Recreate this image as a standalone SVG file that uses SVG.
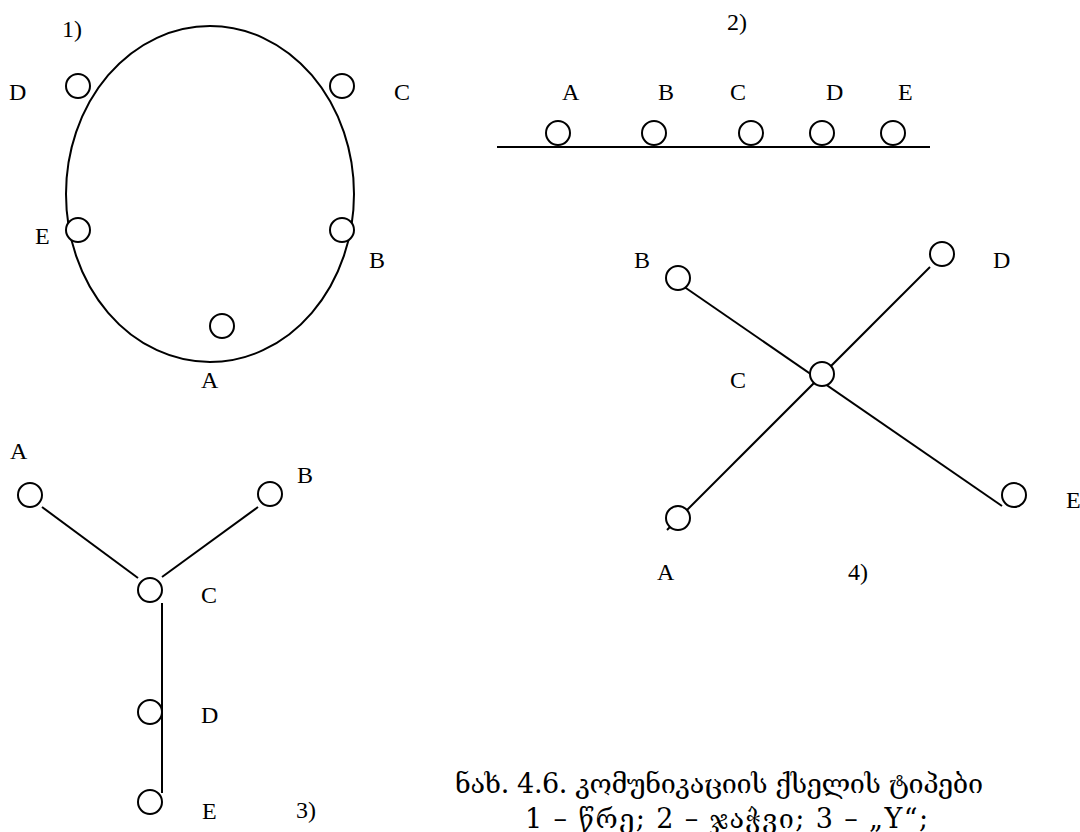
<svg xmlns="http://www.w3.org/2000/svg" width="1080" height="832" viewBox="0 0 1080 832">
<style>
.ln{stroke:#000;stroke-width:2;fill:none}
.nd{stroke:#000;stroke-width:2;fill:#fff}
.lb{font-family:"Liberation Serif","Times New Roman",serif;font-size:24px;fill:#000}
.cap{font-family:"DejaVu Serif","DejaVu Sans",serif;font-size:27px;fill:#000}
</style>
<rect width="1080" height="832" fill="#fff"/>
<g id="connectors">
<ellipse class="ln" cx="210" cy="194" rx="144" ry="168"/>
<line class="ln" x1="497" y1="147" x2="930" y2="147"/>
<line class="ln" x1="42" y1="507" x2="138" y2="578"/>
<line class="ln" x1="258" y1="507" x2="162" y2="577"/>
<line class="ln" x1="667" y1="275" x2="1002" y2="506"/>
<line class="ln" x1="930" y1="267" x2="667" y2="530"/>
</g>
<g id="ring">
<g id="ring-D"><circle class="nd" cx="78" cy="86" r="12"/><text class="lb" x="9" y="100">D</text></g>
<g id="ring-C"><circle class="nd" cx="342" cy="86" r="12"/><text class="lb" x="394" y="100">C</text></g>
<g id="ring-E"><circle class="nd" cx="78" cy="230" r="12"/><text class="lb" x="35" y="244">E</text></g>
<g id="ring-B"><circle class="nd" cx="342" cy="230" r="12"/><text class="lb" x="369" y="268">B</text></g>
<g id="ring-A"><circle class="nd" cx="222" cy="326" r="12"/><text class="lb" x="201" y="388">A</text></g>
<text class="lb" x="62" y="37">1)</text>
</g>
<g id="chain">
<g id="chain-A"><circle class="nd" cx="558" cy="133" r="12"/><text class="lb" x="562" y="100">A</text></g>
<g id="chain-B"><circle class="nd" cx="654" cy="133" r="12"/><text class="lb" x="658" y="100">B</text></g>
<g id="chain-C"><circle class="nd" cx="751" cy="133" r="12"/><text class="lb" x="730" y="100">C</text></g>
<g id="chain-D"><circle class="nd" cx="822" cy="133" r="12"/><text class="lb" x="826" y="100">D</text></g>
<g id="chain-E"><circle class="nd" cx="893" cy="133" r="12"/><text class="lb" x="898" y="100">E</text></g>
<text class="lb" x="727" y="30">2)</text>
</g>
<g id="y">
<line class="ln" x1="162" y1="603" x2="162" y2="793"/>
<g id="y-A"><circle class="nd" cx="30" cy="495" r="12"/><text class="lb" x="10" y="459">A</text></g>
<g id="y-B"><circle class="nd" cx="270" cy="494" r="12"/><text class="lb" x="297" y="483">B</text></g>
<g id="y-C"><circle class="nd" cx="150" cy="590" r="12"/><text class="lb" x="201" y="603">C</text></g>
<g id="y-D"><circle class="nd" cx="150" cy="712" r="12" style="fill:none"/><text class="lb" x="201" y="723">D</text></g>
<g id="y-E"><circle class="nd" cx="150" cy="802" r="12"/><text class="lb" x="202" y="819">E</text></g>
<text class="lb" x="296" y="818">3)</text>
</g>
<g id="star">
<g id="star-B"><circle class="nd" cx="678" cy="278" r="12"/><text class="lb" x="634" y="268">B</text></g>
<g id="star-D"><circle class="nd" cx="942" cy="254" r="12"/><text class="lb" x="993" y="268">D</text></g>
<g id="star-C"><circle class="nd" cx="822" cy="374" r="12"/><text class="lb" x="730" y="388">C</text></g>
<g id="star-E"><circle class="nd" cx="1014" cy="495" r="12"/><text class="lb" x="1066" y="508">E</text></g>
<g id="star-A"><circle class="nd" cx="678" cy="518" r="12"/><text class="lb" x="657" y="580">A</text></g>
<text class="lb" x="848" y="580">4)</text>
</g>
<g id="caption">
<text class="cap" x="455" y="793" textLength="528" lengthAdjust="spacing">ნახ. 4.6. კომუნიკაციის ქსელის ტიპები</text>
<text class="cap" x="525" y="828" textLength="403" lengthAdjust="spacing">1 – წრე; 2 – ჯაჭვი; 3 – „Y“;</text>
</g>
</svg>
